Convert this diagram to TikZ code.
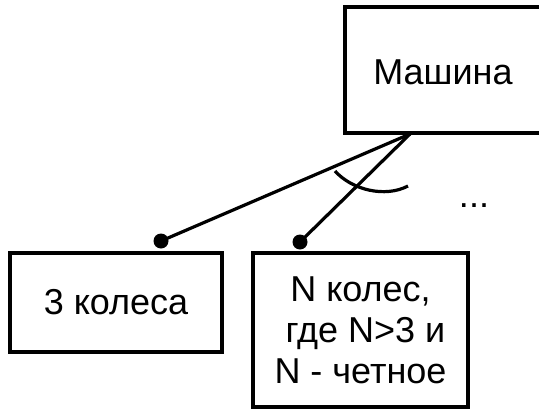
\documentclass[tikz,border=0pt]{standalone}
\usepackage{fontspec}
\setmainfont{Liberation Sans}
\begin{document}
\begin{tikzpicture}[x=1pt,y=-1pt,
  box/.style={draw=black,line width=3.4pt,fill=white,inner sep=0pt,align=center,font=\fontsize{36}{41}\selectfont},
  edge/.style={line width=3.4pt},
  link/.style={line width=3.2pt},
  knob/.style={fill=black}]
\useasboundingbox (0,0) rectangle (539,410);
\clip (0,0) rectangle (539,410);
\node[font=\fontsize{36}{41}\selectfont] (m) at (443,72) {Машина};
\draw[edge] (560,7) -- (345,7) -- (345,133) -- (560,133);
\node[box,minimum width=212pt,minimum height=99pt] (a) at (116,302.5) {3 колеса};
\node[box,minimum width=215pt,minimum height=154pt] (b) at (360.5,330) {N колес,\\ \ где N>3 и\\N - четное};
\coordinate (o) at (410,134);
\coordinate (pa) at (161,241);
\coordinate (pb) at (300,242);
\draw[link] (o) -- (pa);
\draw[link] (o) -- (pb);
\fill[knob] (pa) circle (7.5pt);
\fill[knob] (pb) circle (7.5pt);
\draw[link] (335,171) .. controls (352,190) and (385,198) .. (408,186);
\node[font=\fontsize{36}{41}\selectfont,anchor=base] (dots) at (474,207) {...};
\end{tikzpicture}
\end{document}
